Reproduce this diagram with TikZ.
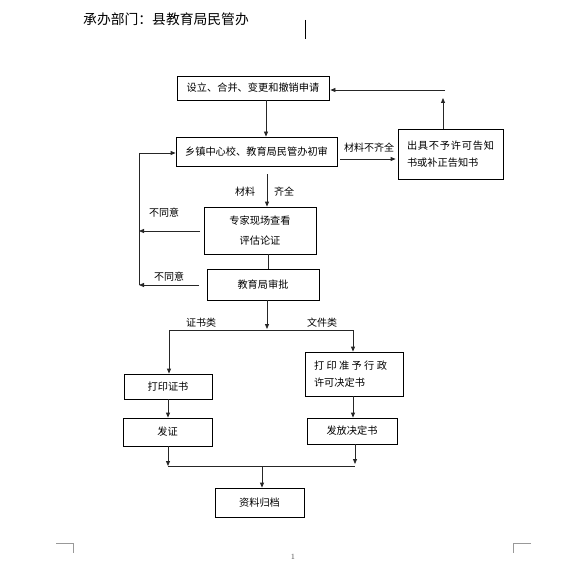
\documentclass[tikz,border=0pt]{standalone}
\usepackage{fontspec}
\newfontfamily\cjk{Noto Sans CJK SC}
\usetikzlibrary{arrows.meta,calc}
\tikzset{
  box/.style={draw, line width=0.8pt, inner sep=0pt, align=center, font=\cjk\fontsize{10.2}{12}\selectfont},
  arr/.style={-{Triangle[length=5pt,width=4pt]}, line width=0.8pt, draw=black!85},
  ln/.style={line width=0.8pt, draw=black!85},
  lbl/.style={inner sep=0pt, font=\cjk\fontsize{10}{12}\selectfont},
  corner/.style={line width=0.6pt, draw=black!40}
}
\begin{document}
\begin{tikzpicture}[x=1pt,y=-1pt]
\useasboundingbox (0,0) rectangle (572,564);
% title
\node[anchor=west, inner sep=0pt, font=\cjk\fontsize{13.8}{16}\selectfont] (title) at (83,19) {承办部门：县教育局民管办};
\coordinate (vt) at (305,20);
\coordinate (vb) at (305,39);
\draw[line width=0.8pt] (vt) -- (vb);

% boxes
\node[box, minimum width=152pt, minimum height=24pt] (b1) at (253,88) {设立、合并、变更和撤销申请};
\node[box, minimum width=161pt, minimum height=29pt] (b2) at (256.5,151.5) {乡镇中心校、教育局民管办初审};
\node[box, minimum width=105pt, minimum height=50pt, align=left, font=\cjk\fontsize{10.2}{17}\selectfont] (br) at (450.5,154)
  {\makebox[87pt][s]{出\hfill 具\hfill 不\hfill 予\hfill 许\hfill 可\hfill 告\hfill 知}\\书或补正告知书};
\node[box, minimum width=112pt, minimum height=47pt, font=\cjk\fontsize{10.2}{20}\selectfont] (b3) at (260,230.5) {专家现场查看\\评估论证};
\node[box, minimum width=112pt, minimum height=31pt] (b4) at (263,284.5) {教育局审批};
\node[box, minimum width=88pt, minimum height=25pt] (p1) at (168,386.5) {打印证书};
\node[box, minimum width=98pt, minimum height=44pt, align=left, font=\cjk\fontsize{10.2}{17}\selectfont] (p2) at (354,374)
  {\makebox[80pt][l]{\makebox[73pt][s]{打\hfill 印\hfill 准\hfill 予\hfill 行\hfill 政}}\\\makebox[80pt][l]{许可决定书}};
\node[box, minimum width=89pt, minimum height=28pt] (fz) at (167.5,432) {发证};
\node[box, minimum width=90pt, minimum height=26pt] (ff) at (352,431) {发放决定书};
\node[box, minimum width=89pt, minimum height=29pt] (zl) at (259.5,502.5) {资料归档};

% helper coordinates
\coordinate (x266) at (266,0);
\coordinate (x267) at (267,0);
\coordinate (x268) at (268,0);
\coordinate (x443) at (443,0);
\coordinate (x139) at (139,0);
\coordinate (x169) at (169,0);
\coordinate (x353) at (353,0);
\coordinate (x355) at (355,0);
\coordinate (x262) at (262,0);
\coordinate (y159) at (0,159);
\coordinate (y153) at (0,153);
\coordinate (y90) at (0,90);
\coordinate (y231) at (0,231);
\coordinate (y285) at (0,285);

% b1 -> b2
\draw[arr] (b1.south -| x266) -- (b2.north -| x266);
% b2 -> br
\coordinate (r1) at (340,159);
\draw[arr] (r1) -- ($(br.west |- y159)+(-2,0)$);
\node[lbl] (lq) at (369,148) {材料不齐全};
% br -> back to b1
\coordinate (up) at (443,98);
\draw[arr] (br.north -| x443) -- (up);
\coordinate (h1) at (445,90);
\draw[arr] (h1) -- ($(b1.east |- y90)+(1,0)$);

% b2 -> b3
\coordinate (s2) at (267,174);
\draw[arr] (s2) -- (b3.north -| s2);
\node[lbl] (l1) at (245,192) {材料};
\node[lbl] (l2) at (284,192) {齐全};
% b3 -- b4
\draw[ln] (b3.south -| x268) -- (b4.north -| x268);

% left loop
\coordinate (lt) at (139,153);
\coordinate (lb) at (139,285);
\draw[ln] (lt) -- (lb);
\draw[arr] (lt) -- (b2.west |- lt);
\coordinate (n1) at (200,231);
\coordinate (n2) at (199,285);
\draw[arr] (n1) -- (n1 -| lt);
\draw[arr] (n2) -- (n2 -| lt);
\node[lbl] (d1) at (164,213) {不同意};
\node[lbl] (d2) at (169,277) {不同意};

% b4 -> split
\coordinate (sp) at (267,329);
\coordinate (hl) at (169,330);
\coordinate (hr) at (353,330);
\draw[arr] (b4.south -| x267) -- (sp);
\draw[ln] (hl) -- (hr);
\draw[arr] (hl) -- (p1.north -| hl);
\draw[arr] (hr) -- (p2.north -| hr);
\node[lbl] (c1) at (201,323) {证书类};
\node[lbl] (c2) at (322,323) {文件类};

% second level
\draw[arr] (p1.south) -- (fz.north -| p1.south);
\draw[arr] (p2.south -| x353) -- (ff.north -| x353);

% merge
\coordinate (ml) at (168,466);
\coordinate (mr) at (355,464);
\coordinate (mm) at (262,466);
\draw[arr] (fz.south -| ml) -- (ml);
\draw[arr] (ff.south -| mr) -- (mr);
\draw[ln] (ml) -- (355,466);
\draw[arr] (mm) -- (zl.north -| mm);

% page decorations
\coordinate (cl1) at (56,543);
\coordinate (cl2) at (73,543);
\coordinate (cl3) at (73,553);
\draw[corner] (cl1) -- (cl2) -- (cl3);
\coordinate (cr1) at (531,543);
\coordinate (cr2) at (513,543);
\coordinate (cr3) at (513,553);
\draw[corner] (cr1) -- (cr2) -- (cr3);
\node[inner sep=0pt, font=\fontsize{8}{9}\selectfont, text=black!70] (pg) at (293,557) {1};
\end{tikzpicture}
\end{document}
